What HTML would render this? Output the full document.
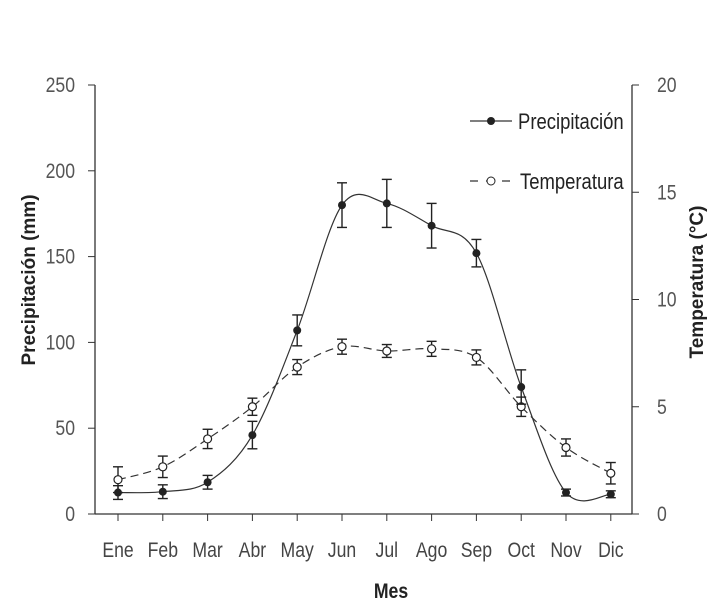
<!DOCTYPE html>
<html><head><meta charset="utf-8"><style>
html,body{margin:0;padding:0;background:#fff;}
svg text{font-family:"Liberation Sans Narrow","Liberation Sans",sans-serif;}
</style></head><body>
<svg id="chart" width="718" height="609" xmlns="http://www.w3.org/2000/svg">
<g id="axes"></g><g id="marks"></g><g id="legend"></g>
</svg>
<script>
const months=["Ene","Feb","Mar","Abr","May","Jun","Jul","Ago","Sep","Oct","Nov","Dic"];
const precip=[12.5,13,18.5,46,107,180,181,168,152,74,12.5,11.5];
const precipErr=[4,4,4,8,9,13,14,13,8,10,2,2];
const temp=[1.6,2.2,3.5,5.0,6.85,7.8,7.6,7.7,7.3,5.0,3.1,1.9];
const tempErr=[0.6,0.5,0.45,0.4,0.35,0.35,0.3,0.35,0.35,0.45,0.4,0.5];
const leftTicks=[0,50,100,150,200,250];
const rightTicks=[0,5,10,15,20];
const NS="http://www.w3.org/2000/svg";
const X0=95,X1=632,Y0=514,Y1=85;
const SX=0.84;
const xs=i=>118+i*44.8;
const yL=v=>Y0-(v/250)*(Y0-Y1);
const yR=v=>Y0-(v/20)*(Y0-Y1);
function mk(tag,attrs,parent,txt){const e=document.createElementNS(NS,tag);for(const k in attrs)e.setAttribute(k,attrs[k]);if(txt!==undefined)e.textContent=txt;parent.appendChild(e);return e;}
function tx(x,y,attrs,parent,txt,rot){const a=Object.assign({x:0,y:0,transform:`translate(${x},${y})`+(rot?` rotate(${rot})`:'')+` scale(${SX},1)`},attrs);return mk('text',a,parent,txt);}
const ax=document.getElementById('axes'),mg=document.getElementById('marks'),lg=document.getElementById('legend');
let e;
e=mk('line',{x1:X0,y1:Y1,x2:X0,y2:Y0,stroke:'#333','stroke-width':1.3},ax);

e=mk('line',{x1:X1,y1:Y1,x2:X1,y2:Y0,stroke:'#333','stroke-width':1.3},ax);

e=mk('line',{x1:X0,y1:Y0,x2:X1,y2:Y0,stroke:'#333','stroke-width':1.3},ax);

leftTicks.forEach(v=>{mk('line',{x1:X0-7,y1:yL(v),x2:X0,y2:yL(v),stroke:'#333'},ax);
 e=tx(X0-20,yL(v)+7,{'text-anchor':'end','font-size':21,fill:'#555'},ax,v);
 });
rightTicks.forEach(v=>{mk('line',{x1:X1,y1:yR(v),x2:X1+7,y2:yR(v),stroke:'#333'},ax);
 e=tx(X1+25,yR(v)+7,{'text-anchor':'start','font-size':21,fill:'#555'},ax,v);
 });
months.forEach((m,i)=>{mk('line',{x1:xs(i),y1:Y0,x2:xs(i),y2:Y0+7,stroke:'#333'},ax);
 e=tx(xs(i),557,{'text-anchor':'middle','font-size':21,fill:'#444'},ax,m);
 });
e=tx(391,598,{'text-anchor':'middle','font-size':21,'font-weight':'bold',fill:'#222'},ax,'Mes');

e=mk('text',{x:0,y:0,transform:'translate(35,280) rotate(-90)','text-anchor':'middle','font-size':19,'font-weight':'bold',fill:'#222'},ax,'Precipitación (mm)');

e=mk('text',{x:0,y:0,transform:'translate(703,282) rotate(-90)','text-anchor':'middle','font-size':19,'font-weight':'bold',fill:'#222'},ax,'Temperatura (°C)');

function spline(pts){let d=`M${pts[0][0]},${pts[0][1]}`;for(let i=0;i<pts.length-1;i++){const p0=pts[Math.max(0,i-1)],p1=pts[i],p2=pts[i+1],p3=pts[Math.min(pts.length-1,i+2)];
 const c1=[p1[0]+(p2[0]-p0[0])/6,p1[1]+(p2[1]-p0[1])/6],c2=[p2[0]-(p3[0]-p1[0])/6,p2[1]-(p3[1]-p1[1])/6];d+=` C${c1[0]},${c1[1]} ${c2[0]},${c2[1]} ${p2[0]},${p2[1]}`;}return d;}
e=mk('path',{d:spline(temp.map((v,i)=>[xs(i),yR(v)])),fill:'none',stroke:'#333','stroke-width':1.2,'stroke-dasharray':'8,5'},mg);

e=mk('path',{d:spline(precip.map((v,i)=>[xs(i),yL(v)])),fill:'none',stroke:'#333','stroke-width':1.2},mg);

function errbar(x,y1,y2){mk('line',{x1:x,y1:y1,x2:x,y2:y2,stroke:'#222','stroke-width':1.4},mg);mk('line',{x1:x-5,y1:y1,x2:x+5,y2:y1,stroke:'#222','stroke-width':1.4},mg);mk('line',{x1:x-5,y1:y2,x2:x+5,y2:y2,stroke:'#222','stroke-width':1.4},mg);}
temp.forEach((v,i)=>{errbar(xs(i),yR(v-tempErr[i]),yR(v+tempErr[i]));
 e=mk('circle',{cx:xs(i),cy:yR(v),r:4,fill:'#fff',stroke:'#222','stroke-width':1.2},mg);
 });
precip.forEach((v,i)=>{errbar(xs(i),yL(v-precipErr[i]),yL(v+precipErr[i]));
 e=mk('circle',{cx:xs(i),cy:yL(v),r:4,fill:'#222'},mg);
 });
mk('line',{x1:470,y1:121,x2:512,y2:121,stroke:'#333','stroke-width':1.3},lg);
mk('circle',{cx:491,cy:121,r:4,fill:'#222'},lg);
e=tx(518,129,{'font-size':22,fill:'#222'},lg,'Precipitación');

mk('line',{x1:470,y1:181,x2:514,y2:181,stroke:'#333','stroke-width':1.3,'stroke-dasharray':'8,8'},lg);
mk('circle',{cx:491,cy:181,r:4,fill:'#fff',stroke:'#222'},lg);
e=tx(520,189,{'font-size':22,fill:'#222'},lg,'Temperatura');

</script>
</body></html>
